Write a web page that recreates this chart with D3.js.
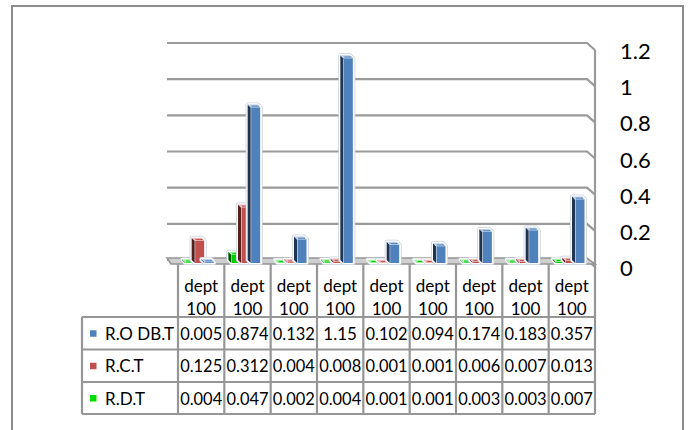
<!DOCTYPE html>
<html>
<head>
<meta charset="utf-8">
<script src="https://cdn.jsdelivr.net/npm/d3@7"></script>
<style>
  html, body { margin: 0; padding: 0; background: #fff; }
  svg { display: block; font-family: Lato, "Open Sans", sans-serif; }
</style>
</head>
<body>
<svg id="chart" width="688" height="430"></svg>
<script>
// Categories along the floor / table header
const categories = ["dept 100", "dept 100", "dept 100", "dept 100", "dept 100",
                    "dept 100", "dept 100", "dept 100", "dept 100"];
// Series names (table row order)
const seriesNames = ["R.O DB.T", "R.C.T", "R.D.T"];
// Series values
const roDbT = [0.005, 0.874, 0.132, 1.15, 0.102, 0.094, 0.174, 0.183, 0.357];
const rcT   = [0.125, 0.312, 0.004, 0.008, 0.001, 0.001, 0.006, 0.007, 0.013];
const rdT   = [0.004, 0.047, 0.002, 0.004, 0.001, 0.001, 0.003, 0.003, 0.007];
// Value axis ticks
const yTicks = [0, 0.2, 0.4, 0.6, 0.8, 1, 1.2];

const seriesValues = { "R.O DB.T": roDbT, "R.C.T": rcT, "R.D.T": rdT };
const colors = {
  "R.O DB.T": { front: "#4F81BD", side: "#1F3352", top: "#B9CDE6", key: "#4F81BD" },
  "R.C.T":    { front: "#C0504D", side: "#551F1E", top: "#E6B9B8", key: "#C0504D" },
  "R.D.T":    { front: "#00CC00", side: "#005A00", top: "#A6F0A6", key: "#00DD00" }
};
// Clustered draw order: green, red, blue from left to right
const clusterOrder = ["R.D.T", "R.C.T", "R.O DB.T"];

const svg = d3.select("#chart");
const GRID = "#9a9a9a";

// outer chart border
svg.append("rect")
  .attr("x", 12).attr("y", 6).attr("width", 671).attr("height", 440)
  .attr("fill", "none").attr("stroke", "#8c8c8c").attr("stroke-width", 2);

// scales
const x = d3.scaleBand().domain(d3.range(categories.length)).range([178, 595]).padding(0);
const inner = d3.scaleBand().domain(clusterOrder).range([4, 33]).padding(0);
const yGrid = d3.scaleLinear().domain([0, 1.2]).range([260, 43]);
const yBar = d3.scaleLinear().domain([0, 1.2]).range([263, 49.4]);

const depth = 8;   // wall depth
const gx0 = 167, gx1 = 587;

// gridlines on back wall + side wall kink
const grid = svg.append("g");
yTicks.forEach(t => {
  const yy = yGrid(t);
  grid.append("path")
    .attr("d", `M${gx0},${yy}H${gx1}L${gx1 + depth},${yy + depth - 1}`)
    .attr("fill", "none").attr("stroke", GRID).attr("stroke-width", 2.2);
});
// right wall front edge
grid.append("line")
  .attr("x1", gx1 + depth).attr("x2", gx1 + depth)
  .attr("y1", yGrid(1.2) + depth - 1).attr("y2", yGrid(0) + depth - 1)
  .attr("stroke", GRID).attr("stroke-width", 2.2);

// floor
svg.append("path")
  .attr("d", `M${gx0},${yGrid(0) - 2}H${gx1}L${gx1 + depth},${yGrid(0) + 4}H${gx0 + 4}Z`)
  .attr("fill", "#cfcfcf").attr("stroke", "#959595").attr("stroke-width", 1.6);

// y-axis labels on the right
svg.append("g").selectAll("text")
  .data(yTicks).join("text")
  .attr("x", 620).attr("y", d => yGrid(d) + 16)
  .attr("font-size", 22).attr("fill", "#000")
  .text(d => d3.format("")(d));

// 3D bars
const d = 3;      // bar depth offset
const fw = 10;    // front face width
const bars = svg.append("g");
categories.forEach((c, i) => {
  clusterOrder.forEach(s => {
    const v = seriesValues[s][i];
    const col = colors[s];
    const x0 = x(i) + inner(s) + d;  // front face left
    const yt = yBar(v);              // front face top
    const yb = yBar(0);              // front face bottom
    const g = bars.append("g");
    // silhouette outline (white bevel edge)
    const sil = `M${x0},${yb}L${x0 - d},${yb - d}L${x0 - d},${yt - d}L${x0 + fw - d},${yt - d}L${x0 + fw},${yt}L${x0 + fw},${yb}Z`;
    g.append("path").attr("d", sil).attr("fill", "none")
      .attr("stroke", "#c9d0d8").attr("stroke-width", 4).attr("stroke-linejoin", "round");
    g.append("path").attr("d", sil).attr("fill", "#fff")
      .attr("stroke", "#fff").attr("stroke-width", 2.5).attr("stroke-linejoin", "round");
    // side face
    g.append("path")
      .attr("d", `M${x0},${yt}L${x0 - d},${yt - d}L${x0 - d},${yb - d}L${x0},${yb}Z`)
      .attr("fill", col.side);
    // top cap
    g.append("path")
      .attr("d", `M${x0},${yt}L${x0 + fw},${yt}L${x0 + fw - d},${yt - d}L${x0 - d},${yt - d}Z`)
      .attr("fill", col.top);
    g.append("line")
      .attr("x1", x0 + 1).attr("x2", x0 + fw - 2)
      .attr("y1", yt - 1.3).attr("y2", yt - 1.3)
      .attr("stroke", col.front).attr("stroke-width", 1);
    // front face
    g.append("rect")
      .attr("x", x0 + 0.5).attr("y", yt)
      .attr("width", fw - 1).attr("height", Math.max(0, yb - yt))
      .attr("fill", col.front);
  });
});

// data table
const rowY = [317, 349.5, 382, 414];
const tableLeft = 82, tableRight = x.range()[1];
const table = svg.append("g");
const TBL = "#969696";
const FS = 17;

// header cells
categories.forEach((c, i) => {
  const cx = x(i) + x.bandwidth() / 2;
  const parts = c.split(" ");
  table.append("text").attr("x", cx).attr("y", 292).attr("text-anchor", "middle")
    .attr("font-size", FS).text(parts[0]);
  table.append("text").attr("x", cx).attr("y", 315).attr("text-anchor", "middle")
    .attr("font-size", FS).text(parts[1]);
});

// value rows
seriesNames.forEach((s, r) => {
  const cy = (rowY[r] + rowY[r + 1]) / 2;
  table.append("rect").attr("x", 90).attr("y", cy - 3).attr("width", 6.5).attr("height", 6.5)
    .attr("fill", colors[s].key);
  table.append("text").attr("x", 105).attr("y", cy + 6.5)
    .attr("font-size", FS).text(s);
  seriesValues[s].forEach((v, i) => {
    table.append("text")
      .attr("x", x(i) + x.bandwidth() / 2).attr("y", cy + 6.5)
      .attr("text-anchor", "middle").attr("font-size", FS)
      .attr("textLength", String(v).length > 4 ? 42 : null)
      .attr("lengthAdjust", "spacingAndGlyphs")
      .text(v);
  });
});

// grid lines of the table
rowY.forEach(yy => {
  table.append("line").attr("x1", tableLeft).attr("x2", tableRight)
    .attr("y1", yy).attr("y2", yy).attr("stroke", TBL).attr("stroke-width", 2.2);
});
table.append("line").attr("x1", tableLeft).attr("x2", tableLeft)
  .attr("y1", rowY[0]).attr("y2", rowY[3]).attr("stroke", TBL).attr("stroke-width", 2.2);
d3.range(categories.length + 1).forEach(i => {
  const xx = i < categories.length ? x(i) : tableRight;
  table.append("line").attr("x1", xx).attr("x2", xx)
    .attr("y1", yGrid(0) + 4).attr("y2", rowY[3]).attr("stroke", TBL).attr("stroke-width", 2.2);
});
</script>
</body>
</html>
